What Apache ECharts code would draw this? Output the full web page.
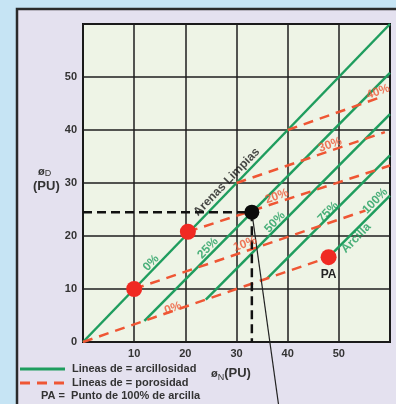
<!DOCTYPE html>
<html>
<head>
<meta charset="utf-8">
<script src="https://cdn.jsdelivr.net/npm/echarts@6/dist/echarts.min.js"></script>
<style>
  html, body { margin: 0; padding: 0; background: #c6e4f4; }
  #chart { width: 396px; height: 404px; }
</style>
</head>
<body>
<div id="chart"></div>
<script>
// ejes: øN (x) y øD (y), ambos 0-60 PU
const axisTicks = [0, 10, 20, 30, 40, 50, 60]
const xTickLabels = ['', '10', '20', '30', '40', '50', '']
const yTickLabels = ['0', '10', '20', '30', '40', '50', '']

// lineas de arcillosidad (verdes), extremo inicial y final
const clayNames = ['0%', '25%', '50%', '75%', '100%']
const clayLines = [
  [[0, 0], [60, 60]],
  [[12, 4], [60, 50.8]],
  [[24, 8], [60, 43]],
  [[36, 12], [60, 35.2]],
  [[48, 16], [60, 27.6]],
]

// lineas de porosidad (rojas, discontinuas)
const porosityNames = ['0%', '10%', '20%', '30%', '40%']
const porosityLines = [
  [[0, 0], [48, 16]],
  [[10, 10], [55.2, 24.8]],
  [[20.5, 20.8], [60, 33.3]],
  [[30, 30], [59, 39.6]],
  [[40, 40], [58.2, 46.2]],
]

// puntos
const redPoints = [[10, 10], [20.5, 20.8]]
const paPoint = [48, 16]
const readPoint = [33, 24.5]
const pointerEnd = [38.2, -11.7]

// etiquetas sobre las lineas: [x, y, texto]
const clayLabels = [
  [13.3, 14.9, '0%'],
  [24.4, 17.7, '25%'],
  [37.5, 22.6, '50%'],
  [47.9, 24.5, '75%'],
  [57.1, 26.6, '100%'],
  [53.4, 19.6, 'Arcilla'],
]
const porosityLabels = [
  [17.6, 6.4, '0%'],
  [31.7, 18.5, '10%'],
  [37.9, 27.5, '20%'],
  [48.3, 37.2, '30%'],
  [57.7, 47.2, '40%'],
]
const sandLabel = [28.1, 30.2, 'Arenas Limpias']

const GREEN = '#1f9d5e'
const RED = '#ef5634'
const FONT = 'Liberation Sans'
const LEGEND_FONT = 'bold 11px "Liberation Sans"'

const chart = echarts.init(document.getElementById('chart'))

const series = []

clayLines.forEach((pts, i) => {
  series.push({
    name: 'arcillosidad ' + clayNames[i],
    type: 'line',
    data: pts,
    symbol: 'none',
    lineStyle: { color: GREEN, width: 2.5 },
    z: 3,
  })
})

porosityLines.forEach((pts, i) => {
  series.push({
    name: 'porosidad ' + porosityNames[i],
    type: 'line',
    data: pts,
    symbol: 'none',
    lineStyle: { color: RED, width: 2.5, type: [10, 7] },
    z: 4,
  })
})

// lineas de lectura (negras)
series.push({
  type: 'line',
  data: [[0, readPoint[1]], readPoint],
  symbol: 'none',
  lineStyle: { color: '#111', width: 2.5, type: [9, 5] },
  z: 5,
})
series.push({
  type: 'line',
  data: [readPoint, [readPoint[0], 0]],
  symbol: 'none',
  lineStyle: { color: '#111', width: 2.5, type: [9, 5] },
  z: 5,
})
series.push({
  type: 'line',
  data: [readPoint, pointerEnd],
  symbol: 'none',
  clip: false,
  lineStyle: { color: '#222', width: 1.2 },
  z: 6,
})

series.push({
  type: 'scatter',
  data: redPoints,
  symbolSize: 16,
  itemStyle: { color: '#f02a23', opacity: 1 },
  z: 7,
})
series.push({
  type: 'scatter',
  data: [paPoint],
  symbolSize: 16,
  itemStyle: { color: '#f02a23', opacity: 1 },
  label: {
    show: true,
    position: 'bottom',
    distance: 3,
    formatter: 'PA',
    color: '#222',
    fontFamily: FONT,
    fontWeight: 'bold',
    fontSize: 12,
  },
  z: 7,
})
series.push({
  type: 'scatter',
  data: [readPoint],
  symbolSize: 15,
  itemStyle: { color: '#0b0b0b', opacity: 1 },
  z: 8,
})

function textSeries(items, color, rotate, size) {
  return {
    type: 'scatter',
    symbolSize: 0,
    silent: true,
    z: 9,
    data: items.map(d => ({
      value: [d[0], d[1]],
      label: { formatter: d[2] },
    })),
    label: {
      show: true,
      position: 'inside',
      rotate: rotate,
      color: color,
      fontFamily: FONT,
      fontWeight: 'bold',
      fontSize: size,
      align: 'center',
      verticalAlign: 'middle',
    },
  }
}

series.push(textSeries(clayLabels, GREEN, 46, 12))
series.push(textSeries(porosityLabels, RED, 20, 12))
series.push(textSeries([sandLabel], '#1a1a1a', 46, 12))

const option = {
  backgroundColor: 'transparent',
  animation: false,
  grid: {
    left: 83,
    top: 24,
    width: 307,
    height: 318,
    show: true,
    backgroundColor: '#eef4e6',
    borderColor: '#111',
    borderWidth: 2,
  },
  xAxis: {
    type: 'value',
    min: axisTicks[0],
    max: axisTicks[axisTicks.length - 1],
    interval: 10,
    axisLine: { show: false },
    axisTick: { show: false },
    splitLine: { lineStyle: { color: '#1e1e1e', width: 1.5 } },
    axisLabel: {
      margin: 6,
      color: '#333',
      fontFamily: FONT,
      fontWeight: 'bold',
      fontSize: 11,
      formatter: v => xTickLabels[axisTicks.indexOf(v)] || '',
    },
  },
  yAxis: {
    type: 'value',
    min: axisTicks[0],
    max: axisTicks[axisTicks.length - 1],
    interval: 10,
    axisLine: { show: false },
    axisTick: { show: false },
    splitLine: { lineStyle: { color: '#1e1e1e', width: 1.5 } },
    axisLabel: {
      margin: 6,
      color: '#333',
      fontFamily: FONT,
      fontWeight: 'bold',
      fontSize: 11,
      formatter: v => yTickLabels[axisTicks.indexOf(v)] || '',
    },
  },
  graphic: [
    // marco lila
    {
      type: 'rect',
      z: -10,
      shape: { x: 17, y: 9, width: 400, height: 420 },
      style: { fill: '#e4e1ef', stroke: '#2a2a2a', lineWidth: 2.5 },
    },
    // titulo eje Y
    {
      type: 'text',
      left: 33,
      top: 166,
      style: {
        text: '{a|ø}{s|D}\n{b|(PU)}',
        rich: {
          a: { fontFamily: FONT, fontSize: 11, fontWeight: 'bold', fill: '#333', padding: [0, 0, 0, 5] },
          s: { fontFamily: FONT, fontSize: 9, fill: '#333', verticalAlign: 'bottom', padding: [4, 0, 0, 0] },
          b: { fontFamily: FONT, fontSize: 13, fontWeight: 'bold', fill: '#333', lineHeight: 16 },
        },
      },
    },
    // titulo eje X
    {
      type: 'text',
      left: 211,
      top: 367,
      style: {
        text: '{a|ø}{s|N}{b|(PU)}',
        rich: {
          a: { fontFamily: FONT, fontSize: 11, fontWeight: 'bold', fill: '#333' },
          s: { fontFamily: FONT, fontSize: 9, fill: '#333', padding: [8, 0, 0, 0] },
          b: { fontFamily: FONT, fontSize: 13, fontWeight: 'bold', fill: '#333' },
        },
      },
    },
    // leyenda
    {
      type: 'line',
      shape: { x1: 20, y1: 369, x2: 65, y2: 369 },
      style: { stroke: GREEN, lineWidth: 3 },
    },
    {
      type: 'text',
      x: 72,
      y: 369,
      style: { text: 'Lineas de = arcillosidad', font: LEGEND_FONT, fill: '#333', verticalAlign: 'middle' },
    },
    {
      type: 'line',
      shape: { x1: 20, y1: 383, x2: 65, y2: 383 },
      style: { stroke: RED, lineWidth: 3, lineDash: [10, 7] },
    },
    {
      type: 'text',
      x: 72,
      y: 383,
      style: { text: 'Lineas de = porosidad', font: LEGEND_FONT, fill: '#333', verticalAlign: 'middle' },
    },
    {
      type: 'text',
      x: 41,
      y: 396,
      style: { text: 'PA =  Punto de 100% de arcilla', font: LEGEND_FONT, fill: '#333', verticalAlign: 'middle' },
    },
  ],
  series: series,
}

chart.setOption(option)
</script>
</body>
</html>
